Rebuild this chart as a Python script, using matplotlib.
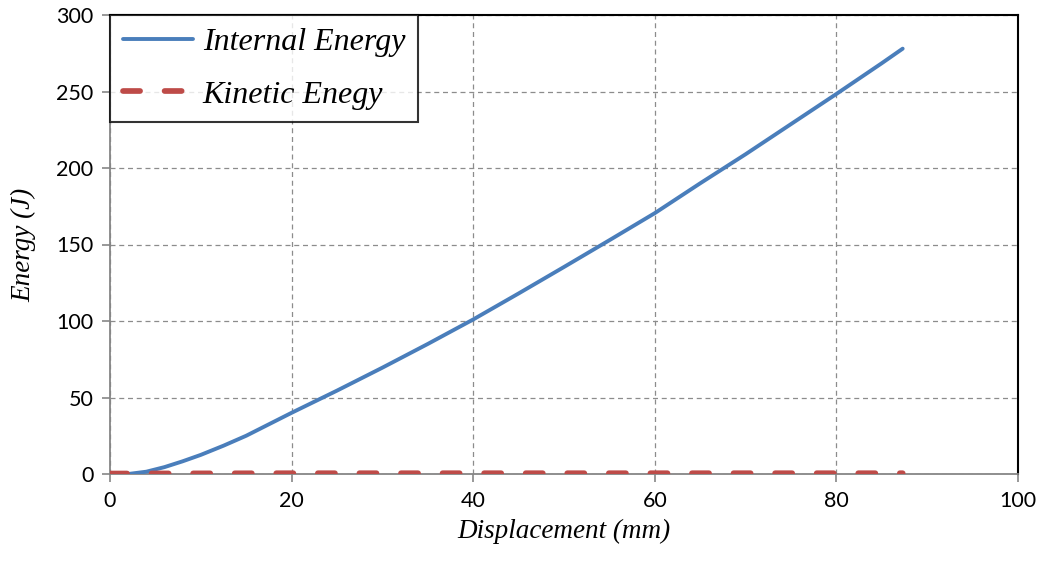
import matplotlib
matplotlib.use("Agg")
import matplotlib.pyplot as plt

# Data
disp_internal = [2, 4, 6, 8, 10, 12.5, 15, 17.5, 20, 25, 30, 35, 40, 45, 50, 55, 60, 65, 70, 75, 80, 85, 87.3]
internal_energy = [0, 1.5, 4.5, 8.3, 12.5, 18.5, 25, 32.5, 40, 54.5, 69.5, 85, 101, 118, 135.3, 152.8, 170.5, 190, 209, 228.7, 248.4, 268.5, 278]
disp_kinetic = [0, 10, 20, 30, 40, 50, 60, 70, 80, 87.3]
kinetic_energy = [0.3, 0.4, 0.5, 0.5, 0.5, 0.5, 0.5, 0.5, 0.5, 0.5]

xticks = [0, 20, 40, 60, 80, 100]
yticks = [0, 50, 100, 150, 200, 250, 300]

fig = plt.figure(figsize=(10.46, 5.63), dpi=100)
ax = fig.add_axes([110/1046, 1 - 474/563, (1018-110)/1046, (474-15)/563])

ax.plot(disp_internal, internal_energy, color="#4A7EBB", lw=2.8,
        label="Internal Energy", solid_capstyle="round",
        solid_joinstyle="round", zorder=3)
ax.plot(disp_kinetic, kinetic_energy, color="#BE4B48", lw=4.1,
        dashes=(3.0, 4.3), dash_capstyle="round",
        label="Kinetic Enegy", zorder=4)

ax.set_xlim(0, 100)
ax.set_ylim(0, 300)
ax.set_xticks(xticks)
ax.set_yticks(yticks)

ax.grid(True, color="#8C8C8C", ls=(0, (4, 3)), lw=0.9)
ax.set_axisbelow(True)

for s in ["left", "bottom"]:
    ax.spines[s].set_color("#868686")
    ax.spines[s].set_linewidth(1.3)
for s in ["top", "right"]:
    ax.spines[s].set_color("black")
    ax.spines[s].set_linewidth(1.5)

ax.tick_params(axis="both", direction="out", length=6, width=1.2,
               color="#868686", labelsize=15.5, pad=6)
for lab in ax.get_xticklabels() + ax.get_yticklabels():
    lab.set_fontfamily("Lato")

ax.set_xlabel("Displacement (mm)", fontfamily="Liberation Serif",
              fontstyle="italic", fontsize=19.5, labelpad=6)
ax.set_ylabel("Energy (J)", fontfamily="Liberation Serif",
              fontstyle="italic", fontsize=19.5, labelpad=14)

leg = ax.legend(loc="upper left", prop={"family": "Liberation Serif",
                                        "style": "italic", "size": 23},
                frameon=True, fancybox=False, borderaxespad=0,
                handlelength=2.2, handletextpad=0.3, labelspacing=0.72,
                borderpad=0.4)
leg.get_frame().set_edgecolor("black")
leg.get_frame().set_linewidth(1.5)

fig.savefig("out.png", dpi=100)
